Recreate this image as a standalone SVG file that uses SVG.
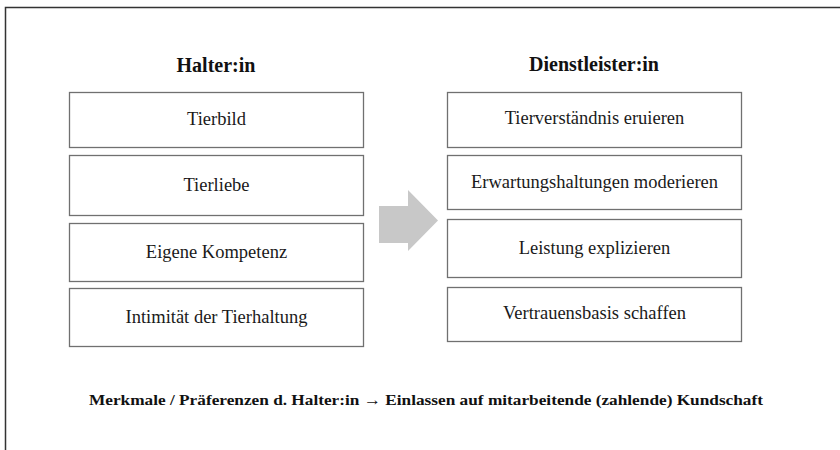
<svg xmlns="http://www.w3.org/2000/svg" width="840" height="450" viewBox="0 0 840 450">
<style>
.box{fill:#fff;stroke:#707070;stroke-width:1.3}
.t{font-family:'Liberation Serif','Times New Roman','DejaVu Serif',serif;font-size:18.5px;font-weight:normal;fill:#1a1a1a;text-anchor:middle}
.h{font-family:'Liberation Serif','Times New Roman','DejaVu Serif',serif;font-size:20px;font-weight:bold;fill:#111;text-anchor:middle}
.f{font-family:'Liberation Serif','Times New Roman','DejaVu Serif',serif;font-size:15.5px;font-weight:bold;fill:#111}
</style>
<rect x="0" y="0" width="840" height="450" fill="#fff"/>
<path d="M5.5,450 V7.5 H840" fill="none" stroke="#333" stroke-width="1.5"/>
<text class="h" x="216" y="72">Halter:in</text>
<text class="h" x="594" y="71">Dienstleister:in</text>
<g id="n-tierbild"><rect class="box" x="69.5" y="92.5" width="294" height="55"/><text class="t" x="216.5" y="124.5">Tierbild</text></g>
<g id="n-tierliebe"><rect class="box" x="69.5" y="155.5" width="294" height="60"/><text class="t" x="216.5" y="190.5">Tierliebe</text></g>
<g id="n-kompetenz"><rect class="box" x="69.5" y="223.5" width="294" height="58"/><text class="t" x="216.5" y="257.5">Eigene Kompetenz</text></g>
<g id="n-intimitaet"><rect class="box" x="69.5" y="288.5" width="294" height="58"/><text class="t" x="216.5" y="322.5">Intimität der Tierhaltung</text></g>
<g id="n-tierverstaendnis"><rect class="box" x="447.5" y="92.5" width="294" height="55"/><text class="t" x="594.5" y="124">Tierverständnis eruieren</text></g>
<g id="n-erwartung"><rect class="box" x="447.5" y="155.5" width="294" height="54"/><text class="t" x="594.5" y="187.5">Erwartungshaltungen moderieren</text></g>
<g id="n-leistung"><rect class="box" x="447.5" y="219.5" width="294" height="58"/><text class="t" x="594.5" y="253.5">Leistung explizieren</text></g>
<g id="n-vertrauen"><rect class="box" x="447.5" y="287.5" width="294" height="54"/><text class="t" x="594.5" y="318.5">Vertrauensbasis schaffen</text></g>
<g id="connectors">
<polygon points="379,206 408,206 408,190 438,220.5 408,251 408,243 379,243" fill="#c8c8c8"/>
</g>
<text class="f" x="89" y="405" textLength="674" lengthAdjust="spacingAndGlyphs">Merkmale / Präferenzen d. Halter:in → Einlassen auf mitarbeitende (zahlende) Kundschaft</text>
</svg>
